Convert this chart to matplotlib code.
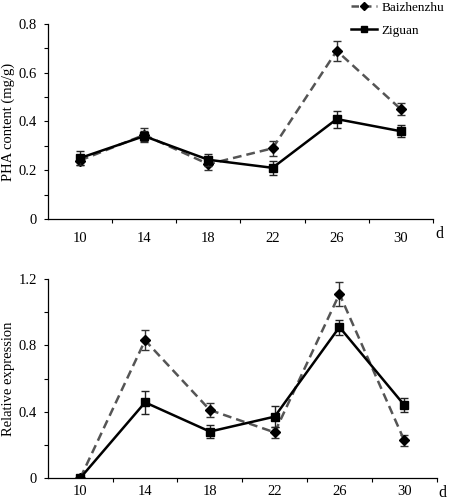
import numpy as np
import matplotlib.pyplot as plt
from matplotlib.lines import Line2D

plt.rcParams['font.family'] = ['Liberation Serif', 'DejaVu Serif']
plt.rcParams['font.size'] = 10.5

days = ['10', '14', '18', '22', '26', '30']

# PHA content (mg/g)
pha_bai = [0.24, 0.345, 0.225, 0.29, 0.69, 0.45]
pha_bai_err = [0.02, 0.03, 0.025, 0.03, 0.04, 0.025]
pha_zig = [0.25, 0.34, 0.243, 0.21, 0.41, 0.36]
pha_zig_err = [0.03, 0.02, 0.025, 0.03, 0.035, 0.025]

# relative expression
rel_bai = [0.0, 0.83, 0.41, 0.275, 1.11, 0.227]
rel_bai_err = [0.0, 0.06, 0.04, 0.035, 0.07, 0.035]
rel_zig = [0.0, 0.456, 0.28, 0.37, 0.91, 0.44]
rel_zig_err = [0.0, 0.07, 0.04, 0.065, 0.045, 0.045]

x = np.arange(len(days))

fig = plt.figure(figsize=(4.52, 5.0), dpi=100)
ax1 = fig.add_axes([0.106, 0.562, 0.852, 0.390])
ax2 = fig.add_axes([0.106, 0.044, 0.860, 0.398])


def style(ax, ymax, major, label_step, xpad):
    ax.spines['top'].set_visible(False)
    ax.spines['right'].set_visible(False)
    ax.set_xlim(-0.5, len(days) - 0.5)
    ax.set_ylim(0, ymax)
    yt = np.arange(0, ymax + 1e-9, major)
    ax.set_yticks(yt)
    labs = []
    for v in yt:
        if abs(v / label_step - round(v / label_step)) < 1e-6:
            labs.append('0' if v == 0 else '{:.1f}'.format(v))
        else:
            labs.append('')
    ax.set_yticklabels(labs)
    ax.tick_params(axis='y', direction='out', length=3, width=0.8, pad=5)
    ax.set_xticks(x)
    ax.set_xticklabels(days)
    ax.tick_params(axis='x', which='major', length=0, pad=xpad)
    ax.set_xticks(np.arange(0.5, len(days) - 0.5 + 1e-9, 1), minor=True)
    ax.tick_params(axis='x', which='minor', direction='out', length=3, width=0.8)
    for s in ['left', 'bottom']:
        ax.spines[s].set_linewidth(0.9)
    ax.text(1.005, -0.035, 'd', transform=ax.transAxes, fontsize=11.5, va='top', ha='left')


def draw(ax, bai, bai_err, zig, zig_err):
    ax.errorbar(x, bai, yerr=bai_err, color='#555555', ls='--', lw=1.8, dashes=(3.5, 2),
                marker='D', ms=5, mfc='black', mec='black', ecolor='#333333',
                elinewidth=1, capsize=3, capthick=1, zorder=3)
    ax.errorbar(x, zig, yerr=zig_err, color='black', ls='-', lw=1.8,
                marker='s', ms=5.5, mfc='black', mec='black', ecolor='#222222',
                elinewidth=1, capsize=3, capthick=1, zorder=4)


draw(ax1, pha_bai, pha_bai_err, pha_zig, pha_zig_err)
style(ax1, 0.8, 0.1, 0.2, 9)
ax1.set_ylabel('PHA content (mg/g)', fontsize=10.5)
ax1.yaxis.set_label_coords(-0.085, 0.5)

draw(ax2, rel_bai, rel_bai_err, rel_zig, rel_zig_err)
style(ax2, 1.2, 0.2, 0.4, 5)
ax2.set_ylabel('Relative expression', fontsize=10.5)
ax2.yaxis.set_label_coords(-0.085, 0.5)

h = [Line2D([], [], color='#555555', ls='--', lw=1.8, dashes=(3, 2), marker='D', ms=4,
            mfc='black', mec='black'),
     Line2D([], [], color='black', ls='-', lw=1.8, marker='s', ms=4,
            mfc='black', mec='black')]
fig.legend(h, ['Baizhenzhu', 'Ziguan'], loc='upper left', bbox_to_anchor=(0.765, 1.008),
           frameon=False, fontsize=9.5, handlelength=2.0, labelspacing=0.85,
           handletextpad=0.3, borderaxespad=0)

fig.savefig('out.png', dpi=100)
